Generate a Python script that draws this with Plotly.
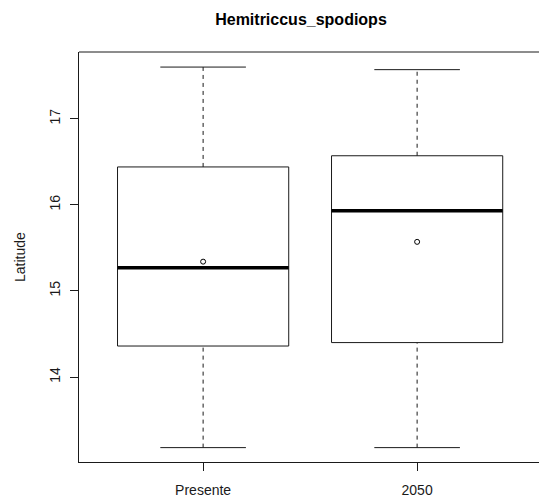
import plotly.graph_objects as go

# ---- data ----
categories = ["Presente", "2050"]
positions = [1, 2]
lower_whisker = [13.18, 13.18]
q1 = [14.36, 14.40]
median = [15.27, 15.93]
q3 = [16.44, 16.57]
upper_whisker = [17.60, 17.57]
mean = [15.34, 15.57]

y_ticks = [14, 15, 16, 17]
title_text = "Hemitriccus_spodiops"
y_label = "Latitude"

BOX_HALF = 0.4
CAP_HALF = 0.2
LINE = "#1a1a1a"
FONT = "Liberation Sans, Arial, sans-serif"

W, H = 539, 503
L, T, B = 79, 52, 41

fig = go.Figure()

bx, by, wx, wy, cx, cy, mx, my = [], [], [], [], [], [], [], []
for p, lo, a, m, b, hi in zip(positions, lower_whisker, q1, median, q3, upper_whisker):
    bx += [p - BOX_HALF, p + BOX_HALF, p + BOX_HALF, p - BOX_HALF, p - BOX_HALF, None]
    by += [a, a, b, b, a, None]
    wx += [p, p, None, p, p, None]
    wy += [b, hi, None, lo, a, None]
    cx += [p - CAP_HALF, p + CAP_HALF, None, p - CAP_HALF, p + CAP_HALF, None]
    cy += [hi, hi, None, lo, lo, None]
    mx += [p - BOX_HALF, p + BOX_HALF, None]
    my += [m, m, None]

fig.add_trace(go.Scatter(x=wx, y=wy, mode="lines",
                         line=dict(color=LINE, width=1, dash="4px,4px"),
                         hoverinfo="skip", showlegend=False))
fig.add_trace(go.Scatter(x=cx, y=cy, mode="lines",
                         line=dict(color=LINE, width=1),
                         hoverinfo="skip", showlegend=False))
fig.add_trace(go.Scatter(x=bx, y=by, mode="lines",
                         line=dict(color=LINE, width=1),
                         hoverinfo="skip", showlegend=False))
fig.add_trace(go.Scatter(x=mx, y=my, mode="lines",
                         line=dict(color="#000000", width=3.5),
                         hoverinfo="skip", showlegend=False))
fig.add_trace(go.Scatter(x=positions, y=mean, mode="markers",
                         marker=dict(symbol="circle-open", size=5,
                                     color="#000000", line=dict(width=1)),
                         showlegend=False))

plot_w = W - L
fig.update_layout(
    width=W, height=H,
    margin=dict(l=L, r=0, t=T, b=B),
    paper_bgcolor="white", plot_bgcolor="white",
    font=dict(family=FONT, size=14, color="#1a1a1a"),
    title=dict(text="<b>" + title_text + "</b>", x=301 / W, xanchor="center",
               y=1 - 19 / H, yanchor="middle",
               font=dict(family=FONT, size=16, color="#000000")),
    showlegend=False,
)
fig.update_xaxes(range=[0.42, 0.42 + plot_w / 214], tickvals=positions, ticktext=categories,
                 showgrid=False, zeroline=False, showline=True, linecolor=LINE, linewidth=1,
                 ticks="outside", ticklen=8, tickcolor=LINE, tickfont=dict(size=14),
                 ticklabelstandoff=7)
fig.update_yaxes(range=[13.013, 17.775], tickvals=y_ticks,
                 showgrid=False, zeroline=False, showline=True, linecolor=LINE, linewidth=1,
                 ticks="outside", ticklen=8, tickcolor=LINE, tickangle=-90,
                 tickfont=dict(size=14), ticklabelstandoff=4)
fig.add_shape(type="line", xref="paper", yref="paper", x0=0, x1=1, y0=1, y1=1,
              line=dict(color=LINE, width=1))
fig.add_annotation(text=y_label, xref="paper", yref="paper",
                   x=(20 - 79) / plot_w, y=0.5, textangle=-90, showarrow=False,
                   xanchor="center", yanchor="middle", font=dict(size=14))

fig.write_html("out.html",
               config={"displayModeBar": False},
               post_script="document.body.style.margin='0';document.body.style.overflow='hidden';")
